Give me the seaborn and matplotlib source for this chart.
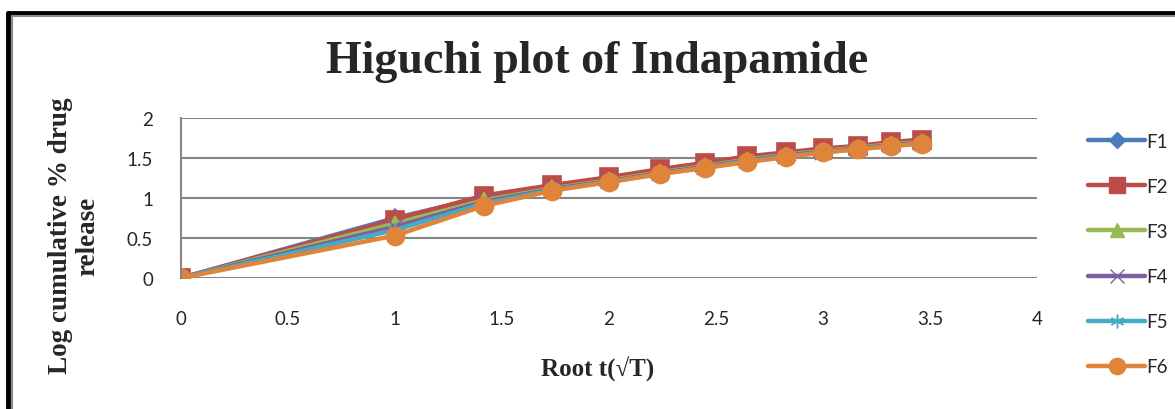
import numpy as np
import pandas as pd
import seaborn as sns
import matplotlib.pyplot as plt
from matplotlib.lines import Line2D

# root time values (sqrt of hours 0..12)
root_t = [0, 1, 1.414, 1.732, 2, 2.236, 2.449, 2.646, 2.828, 3, 3.162, 3.317, 3.464]

# log cumulative % drug release
f1 = [0, 0.75, 1.01, 1.14, 1.24, 1.34, 1.42, 1.50, 1.55, 1.60, 1.64, 1.68, 1.71]
f2 = [0, 0.73, 1.03, 1.16, 1.26, 1.36, 1.44, 1.52, 1.57, 1.62, 1.65, 1.70, 1.73]
f3 = [0, 0.68, 0.97, 1.12, 1.22, 1.32, 1.40, 1.48, 1.54, 1.59, 1.63, 1.67, 1.70]
f4 = [0, 0.64, 0.95, 1.11, 1.21, 1.31, 1.39, 1.47, 1.53, 1.58, 1.62, 1.66, 1.69]
f5 = [0, 0.60, 0.93, 1.10, 1.20, 1.30, 1.38, 1.46, 1.52, 1.57, 1.61, 1.65, 1.68]
f6 = [0, 0.53, 0.90, 1.09, 1.20, 1.30, 1.375, 1.45, 1.51, 1.57, 1.61, 1.65, 1.68]

series_names = ['F1', 'F2', 'F3', 'F4', 'F5', 'F6']
series_values = [f1, f2, f3, f4, f5, f6]

colors = ['#4A7EBB', '#BE4B48', '#98B954', '#7D60A0', '#46AAC5', '#E0843A']
markers = ['D', 's', '^', 'x', (6, 2, 0), 'o']
msizes = [9, 13, 11, 11, 11, 13]

df = pd.DataFrame({
    'x': np.tile(root_t, len(series_names)),
    'y': np.concatenate(series_values),
    'series': np.repeat(series_names, len(root_t)),
})

sns.set_style('white')
plt.rcParams['font.family'] = ['Lato', 'DejaVu Sans']

fig = plt.figure(figsize=(11.75, 4.1), dpi=100)
ax = fig.add_axes([0.154, 0.3195, 0.7286, 0.3903])

for name, col, mk, ms in zip(series_names, colors, markers, msizes):
    sub = df[df['series'] == name]
    sns.lineplot(data=sub, x='x', y='y', ax=ax, color=col, linewidth=3.2,
                 marker=mk, markersize=ms, markeredgecolor=col,
                 markeredgewidth=1.2, label=name, legend=False)

ax.set_xlim(0, 4)
ax.set_ylim(0, 2)
ax.set_xticks([0, 0.5, 1, 1.5, 2, 2.5, 3, 3.5, 4])
ax.set_xticklabels(['0', '0.5', '1', '1.5', '2', '2.5', '3', '3.5', '4'])
ax.set_yticks([0, 0.5, 1, 1.5, 2])
ax.set_yticklabels(['0', '0.5', '1', '1.5', '2'])
ax.tick_params(axis='x', labelsize=13.5, pad=23, length=0)
ax.tick_params(axis='y', labelsize=13.5, pad=20, length=0)
ax.yaxis.grid(True, color='#868686', linewidth=1.5)
ax.set_axisbelow(True)
for s in ['top', 'right', 'bottom']:
    ax.spines[s].set_visible(False)
ax.spines['left'].set_color('#868686')
ax.spines['left'].set_linewidth(1.5)

ax.set_xlabel('')
ax.set_ylabel('')
fig.text(0.508, 0.848, 'Higuchi plot of Indapamide', ha='center', va='center',
         fontsize=33, fontweight='bold', family='Liberation Serif')
fig.text(0.509, 0.10, 'Root t(√T)', ha='center', va='center',
         fontsize=18, fontweight='bold', family='Liberation Serif')
fig.text(0.063, 0.424, 'Log cumulative % drug\nrelease', ha='center', va='center',
         rotation=90, fontsize=19.5, fontweight='bold', family='Liberation Serif',
         linespacing=1.1)

# legend
handles = [Line2D([], [], color=c, linewidth=3.2, marker=m, markersize=s * 0.9,
                  markeredgecolor=c) for c, m, s in zip(colors, markers, msizes)]
fig.legend(handles, series_names, loc='upper left', bbox_to_anchor=(0.912, 0.715),
           frameon=False, fontsize=13.5, labelspacing=1.5, handlelength=3.0,
           handletextpad=0.1)

# outer frame (black + gray double line)
fig.add_artist(Line2D([0.0068, 1.0], [0.966, 0.966], color='black', lw=3.5))
fig.add_artist(Line2D([0.0068, 0.0068], [0.0, 0.966], color='black', lw=3.5))
fig.add_artist(Line2D([0.0098, 1.0], [0.958, 0.958], color='#8a8a8a', lw=1.5))
fig.add_artist(Line2D([0.0098, 0.0098], [0.0, 0.958], color='#8a8a8a', lw=1.5))

fig.savefig('out.png', dpi=100)
